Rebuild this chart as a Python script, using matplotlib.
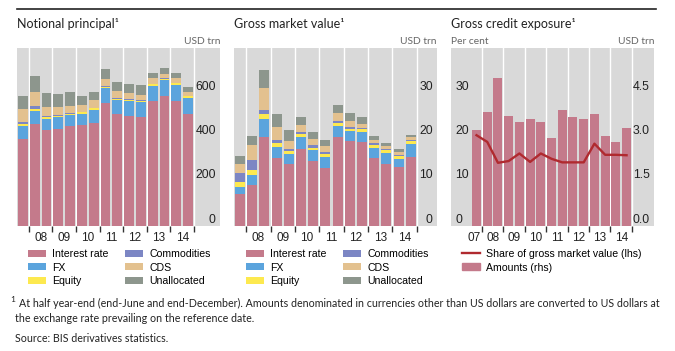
import matplotlib
matplotlib.use("Agg")
import matplotlib.pyplot as plt
import numpy as np
from matplotlib.lines import Line2D
from matplotlib.patches import Patch

# half-year ends, Dec 2007 .. Dec 2014
periods = ["07H2", "08H1", "08H2", "09H1", "09H2", "10H1", "10H2", "11H1",
           "11H2", "12H1", "12H2", "13H1", "13H2", "14H1", "14H2"]
years = ["08", "09", "10", "11", "12", "13", "14"]

series_names = ["Interest rate", "FX", "Equity", "Commodities", "CDS", "Unallocated"]
colors = ["#c47a8b", "#5ba4dd", "#fde94f", "#7c86c4", "#e3c18f", "#8d968d"]

# notional principal, USD trn
np_ir = [393, 458, 432, 437, 449, 452, 465, 553, 504, 494, 490, 561, 584, 563, 505]
np_fx = [56, 60, 50, 52, 49, 53, 58, 65, 63, 67, 67, 70, 71, 72, 72]
np_eq = [8.5, 10, 6.5, 6.6, 5.9, 6.3, 5.6, 6.8, 6.0, 6.3, 6.3, 6.8, 6.6, 7.0, 6.9]
np_comm = [8.5, 11, 4.4, 3.7, 2.9, 2.9, 2.9, 3.2, 3.1, 3.0, 2.6, 2.5, 2.2, 2.2, 1.9]
np_cds = [60, 63, 42, 36, 33, 31, 34, 32, 29, 27, 25, 24, 21, 19, 16]
np_unal = [60, 72, 63, 60, 64, 39, 35, 47, 43, 41, 42, 25, 25, 25, 23]

# gross market value, USD trn
gm_ir = [7.2, 9.3, 20.1, 15.3, 14.0, 17.3, 14.5, 13.1, 19.9, 19.1, 18.8, 15.2, 14.0, 13.3, 15.4]
gm_fx = [1.6, 2.1, 3.9, 2.5, 2.1, 2.6, 2.5, 2.3, 2.6, 2.2, 2.3, 2.4, 2.3, 1.7, 3.0]
gm_eq = [1.1, 1.1, 1.1, 0.9, 0.7, 0.7, 0.6, 0.7, 0.7, 0.6, 0.6, 0.7, 0.7, 0.7, 0.6]
gm_comm = [2.1, 2.4, 0.9, 0.7, 0.5, 0.5, 0.5, 0.5, 0.5, 0.4, 0.4, 0.4, 0.3, 0.3, 0.3]
gm_cds = [1.9, 3.2, 5.0, 2.9, 1.8, 1.7, 1.4, 1.3, 1.6, 1.2, 0.8, 0.7, 0.65, 0.6, 0.6]
gm_unal = [1.9, 2.1, 4.1, 2.9, 2.4, 1.8, 1.6, 1.4, 1.9, 1.8, 1.7, 0.8, 0.7, 0.6, 0.6]

# gross credit exposure
gce_amount = [3.25, 3.85, 5.0, 3.7, 3.5, 3.6, 3.5, 2.95, 3.92, 3.68, 3.62, 3.78, 3.02, 2.82, 3.32]
gce_share = [20.4, 18.9, 14.2, 14.6, 16.3, 14.4, 16.3, 15.1, 14.3, 14.3, 14.3, 18.5, 16.0, 16.0, 15.9]

W, H = 675, 351
BG = "#d9d9d9"
TICKFONT = "Liberation Sans"
TEXTFONT = "Lato"

fig = plt.figure(figsize=(W / 100, H / 100), dpi=100)


def add_panel(left, right, top=48, bottom=226):
    return fig.add_axes([left / W, 1 - bottom / H, (right - left) / W, (bottom - top) / H])


def style_panel(ax, xlim, ylim, grid_vals, first_label=None):
    ax.set_facecolor(BG)
    for s in ax.spines.values():
        s.set_visible(False)
    ax.set_xlim(*xlim)
    ax.set_ylim(*ylim)
    ax.set_axisbelow(True)
    # year boundaries: tick marks + white vertical lines
    bounds = np.arange(0.5, 15, 2)
    ax.set_xticks(bounds)
    ax.set_xticklabels([])
    mids = list(np.arange(1.5, 15, 2))
    labs = list(years)
    if first_label is not None:
        mids = [-0.25] + mids
        labs = [first_label] + labs
    ax.set_xticks(mids, minor=True)
    ax.set_xticklabels(labs, minor=True, fontsize=8.5, family=TICKFONT, color="#222222")
    ax.tick_params(axis="x", which="major", direction="out", length=4, width=1, color="#333333")
    ax.tick_params(axis="x", which="minor", length=0, pad=4)
    ax.grid(axis="x", which="major", color="white", lw=1)
    ax.set_yticks(grid_vals, minor=True)
    ax.grid(axis="y", which="minor", color="white", lw=1)


def ylabels(ax, vals, fmt, side="right"):
    if side == "right":
        ax.yaxis.tick_right()
    else:
        ax.yaxis.tick_left()
    ax.set_yticks(vals)
    ax.set_yticklabels([fmt.format(v) for v in vals], fontsize=8.8, family=TICKFONT, color="#222222")
    ax.tick_params(axis="y", which="both", length=0, pad=-3)
    for lb in ax.get_yticklabels():
        lb.set_horizontalalignment("right" if side == "right" else "left")
        lb.set_verticalalignment("bottom")


x = np.arange(len(periods))

# --- panel 1: notional principal
ax1 = add_panel(17, 220)
style_panel(ax1, (-0.5, 16.7), (0, 800), [200, 400, 600])
ylabels(ax1, [0, 200, 400, 600], "{:d}")
bottom = np.zeros(len(x))
for vals, c, name in zip([np_ir, np_fx, np_eq, np_comm, np_cds, np_unal], colors, series_names):
    ax1.bar(x, vals, bottom=bottom, width=0.82, color=c, label=name, zorder=2)
    bottom += np.array(vals)

# --- panel 2: gross market value
ax2 = add_panel(234, 437)
style_panel(ax2, (-0.5, 16.15), (0, 40), [10, 20, 30])
ylabels(ax2, [0, 10, 20, 30], "{:d}")
bottom = np.zeros(len(x))
for vals, c, name in zip([gm_ir, gm_fx, gm_eq, gm_comm, gm_cds, gm_unal], colors, series_names):
    ax2.bar(x, vals, bottom=bottom, width=0.82, color=c, label=name, zorder=2)
    bottom += np.array(vals)

# --- panel 3: gross credit exposure (bars rhs, line lhs)
ax3 = add_panel(451, 654)
style_panel(ax3, (-2.38, 16.56), (0, 6), [1.5, 3.0, 4.5], first_label="07")
ax3.bar(x, gce_amount, width=0.84, color=colors[0], zorder=2)
ax3t = ax3.twinx()
for s in ax3t.spines.values():
    s.set_visible(False)
ax3t.set_ylim(0, 40)
ax3t.plot(x, gce_share, color="#b02a2f", lw=1.7)
ylabels(ax3, [0, 1.5, 3.0, 4.5], "{:.1f}")
ylabels(ax3t, [0, 10, 20, 30], "{:d}", side="left")

# titles and units
for ax, title in [(ax1, "Notional principal\u00b9"), (ax2, "Gross market value\u00b9"),
                  (ax3, "Gross credit exposure\u00b9")]:
    ax.text(0, 1 + 24 / 178, title, transform=ax.transAxes, ha="left", va="center",
            fontsize=9, family=TEXTFONT, color="#222222")
    ax.text(1, 1 + 6 / 178, "USD trn", transform=ax.transAxes, ha="right", va="center",
            fontsize=7.4, family=TEXTFONT, color="#666666")
ax3.text(0, 1 + 6 / 178, "Per cent", transform=ax3.transAxes, ha="left", va="center",
         fontsize=7.4, family=TEXTFONT, color="#666666")

fig.add_artist(Line2D([17 / W, 656 / W], [1 - 9 / H, 1 - 9 / H], color="#222222", lw=1.2))

# legends
legend_kw = dict(loc="upper left", frameon=False, prop={"family": TICKFONT, "size": 7.6},
                 handlelength=1.75, handleheight=0.65, handletextpad=0.55,
                 labelspacing=0.34, borderaxespad=0, borderpad=0)
for ax, left in [(ax1, 28), (ax2, 246)]:
    h, l = ax.get_legend_handles_labels()
    fig.legend(h, l, ncol=2, bbox_to_anchor=(left / W, 1 - 249 / H), columnspacing=1.55, **legend_kw)

h3 = [Line2D([], [], color="#b02a2f", lw=1.7), Patch(color=colors[0])]
fig.legend(h3, ["Share of gross market value (lhs)", "Amounts (rhs)"],
           bbox_to_anchor=(462 / W, 1 - 249 / H), **legend_kw)

# footnotes
fig.text(10 / W, 1 - 299 / H, "1", fontsize=6, family=TEXTFONT, color="#222222", va="center")
fig.text(19 / W, 1 - 303 / H,
         "At half year-end (end-June and end-December). Amounts denominated in currencies other "
         "than US dollars are converted to US dollars at",
         fontsize=7.7, family=TEXTFONT, color="#222222", va="center")
fig.text(15 / W, 1 - 318 / H, "the exchange rate prevailing on the reference date.",
         fontsize=7.7, family=TEXTFONT, color="#222222", va="center")
fig.text(15 / W, 1 - 338 / H, "Source: BIS derivatives statistics.",
         fontsize=7.7, family=TEXTFONT, color="#222222", va="center")

fig.savefig("out.png", dpi=100)
